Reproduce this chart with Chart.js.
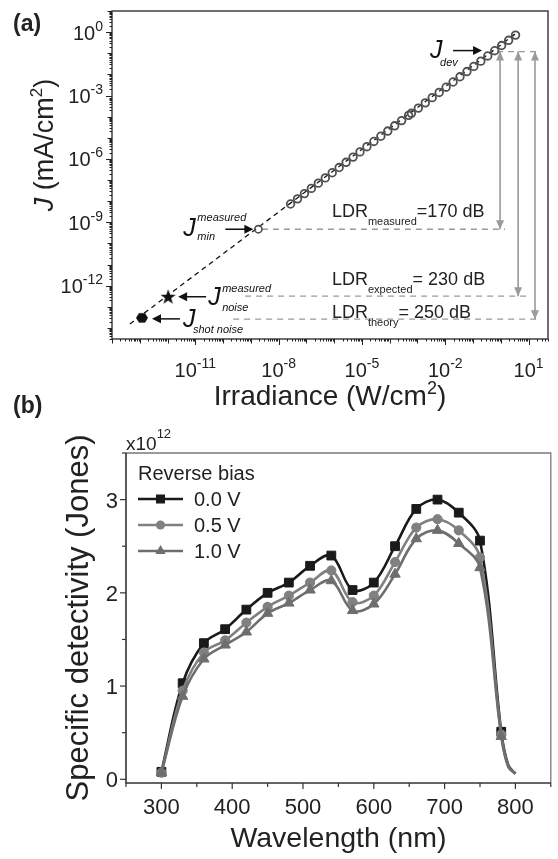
<!DOCTYPE html>
<html><head><meta charset="utf-8">
<script src="https://cdn.jsdelivr.net/npm/chart.js@4.4.0/dist/chart.umd.min.js"></script>
<style>
html,body{margin:0;padding:0;background:#fff;width:558px;height:859px;overflow:hidden;}
#wa{position:absolute;left:0;top:0;width:558px;height:420px;}
#wb{position:absolute;left:0;top:420px;width:558px;height:439px;}
</style></head><body>
<div id="wa"><canvas id="ca" width="558" height="420"></canvas></div>
<div id="wb"><canvas id="cb" width="558" height="439"></canvas></div>
<script>
// ---------- Panel (a) data ----------
const irradiance = [2.69e-8, 4.79e-8, 8.51e-8, 1.51e-7, 2.69e-7, 4.79e-7, 8.51e-7, 1.51e-6, 2.69e-6, 4.79e-6, 8.51e-6, 1.51e-5, 2.69e-5, 4.79e-5, 8.51e-5, 1.51e-4, 2.69e-4, 4.79e-4, 6.03e-4, 1.07e-3, 1.91e-3, 3.39e-3, 6.03e-3, 1.07e-2, 1.91e-2, 3.39e-2, 6.03e-2, 0.107, 0.191, 0.339, 0.603, 1.07, 1.91, 3.39];
const currentDensity = [7.33e-9, 1.29e-8, 2.28e-8, 4.03e-8, 7.11e-8, 1.26e-7, 2.21e-7, 3.91e-7, 6.90e-7, 1.22e-6, 2.15e-6, 3.79e-6, 6.70e-6, 1.18e-5, 2.08e-5, 3.68e-5, 6.50e-5, 1.15e-4, 1.44e-4, 2.54e-4, 4.49e-4, 7.93e-4, 1.40e-3, 2.47e-3, 4.36e-3, 7.69e-3, 1.36e-2, 2.39e-2, 4.23e-2, 7.46e-2, 0.132, 0.232, 0.410, 0.724];
const minMeasuredIrr = [1.86e-9];
const minMeasuredJ = [4.7e-10];
const noiseMeasuredIrr = [1.05e-12];
const noiseMeasuredJ = [3.0e-13];
const shotNoiseIrr = [1.2e-13];
const shotNoiseJ = [3.0e-14];
const fitIrr = [4.4e-14, 3.84];
const fitJ = [1.55e-14, 0.95];
const devLevelJ = 0.12;
const ldrNames = ['measured', 'expected', 'theory'];
const ldrValuesDb = [170, 230, 250];
const ldrLevelJ = [4.7e-10, 3.2e-13, 2.6e-14];
const ldrTextSep = ['=', '= ', '= '];
const xTickExpA = [-11, -8, -5, -2, 1];
const yTickExpA = [0, -3, -6, -9, -12];

// ---------- Panel (b) data ----------
const wavelength = [300, 330, 360, 390, 420, 450, 480, 510, 540, 570, 600, 630, 660, 690, 720, 750, 780, 790, 800];
const det00 = [0.08, 1.03, 1.46, 1.61, 1.82, 2.00, 2.11, 2.29, 2.40, 2.03, 2.11, 2.50, 2.90, 3.00, 2.86, 2.56, 0.51, 0.15, 0.06];
const det05 = [0.07, 0.95, 1.36, 1.49, 1.68, 1.85, 1.97, 2.11, 2.24, 1.90, 1.97, 2.33, 2.70, 2.79, 2.67, 2.38, 0.48, 0.14, 0.06];
const det10 = [0.07, 0.89, 1.29, 1.44, 1.58, 1.78, 1.89, 2.03, 2.13, 1.81, 1.88, 2.20, 2.58, 2.67, 2.53, 2.27, 0.46, 0.13, 0.06];
const biasLabels = ['0.0 V', '0.5 V', '1.0 V'];
const xTicksB = [300, 400, 500, 600, 700, 800];
const yTicksB = [0, 1, 2, 3];
const lastMarkerWl = 780;

// ---------- helpers ----------
const FAM = '"Liberation Sans", Arial, Helvetica, sans-serif';
const fnt = (s, it, b) => `${it ? 'italic ' : ''}${b ? 'bold ' : ''}${s}px ${FAM}`;
function parts(ctx, list, x, y, align) {
  let tot = 0;
  list.forEach(p => { ctx.font = fnt(p.s, p.i, p.b); p.w = ctx.measureText(p.t).width; tot += p.w; });
  let cx = align === 'right' ? x - tot : align === 'center' ? x - tot / 2 : x;
  ctx.textAlign = 'left'; ctx.textBaseline = 'alphabetic';
  list.forEach(p => { ctx.font = fnt(p.s, p.i, p.b); ctx.fillText(p.t, cx, y + (p.dy || 0)); cx += p.w; });
}
function arrowHead(ctx, x0, y0, x1, y1, color, hl, hw) {
  const a = Math.atan2(y1 - y0, x1 - x0), c = Math.cos(a), s = Math.sin(a);
  ctx.fillStyle = color; ctx.beginPath();
  ctx.moveTo(x1, y1);
  ctx.lineTo(x1 - hl * c + hw * s, y1 - hl * s - hw * c);
  ctx.lineTo(x1 - hl * c - hw * s, y1 - hl * s + hw * c);
  ctx.closePath(); ctx.fill();
}
function arrow(ctx, x0, y0, x1, y1, color, lw, hl, hw) {
  const a = Math.atan2(y1 - y0, x1 - x0);
  ctx.strokeStyle = color; ctx.lineWidth = lw; ctx.beginPath();
  ctx.moveTo(x0, y0); ctx.lineTo(x1 - Math.cos(a) * hl * 0.7, y1 - Math.sin(a) * hl * 0.7); ctx.stroke();
  arrowHead(ctx, x0, y0, x1, y1, color, hl, hw);
}
function shapeImage(kind) {
  const c = document.createElement('canvas'); c.width = 18; c.height = 18;
  const g = c.getContext('2d'); g.fillStyle = '#111'; g.beginPath();
  if (kind === 'star') {
    for (let k = 0; k < 10; k++) {
      const r = k % 2 ? 3.2 : 8, a = -Math.PI / 2 + k * Math.PI / 5;
      const px = 9 + r * Math.cos(a), py = 9.5 + r * Math.sin(a);
      k ? g.lineTo(px, py) : g.moveTo(px, py);
    }
  } else {
    for (let k = 0; k < 6; k++) {
      const a = k * Math.PI / 3;
      const px = 9 + 6 * Math.cos(a), py = 9 + 5.6 * Math.sin(a);
      k ? g.lineTo(px, py) : g.moveTo(px, py);
    }
  }
  g.closePath(); g.fill();
  return c;
}
const pts = (xs, ys) => xs.map((v, i) => ({ x: v, y: ys[i] }));

// ---------- Panel (a) ----------
const arrowIrr = [0.94, 4.2, 17];      // x positions of LDR double arrows
const ldrLineStart = [2.5e-9, 6.2e-10, 2.3e-10];
const ldrLineEnd = [1.42, 9.5, 25.7];
const ldrTextIrr = 8.3e-7;

const dsA = [
  { label: 'J measured', data: pts(irradiance, currentDensity), showLine: false,
    pointStyle: 'circle', pointRadius: 3.8, borderWidth: 1.8, borderColor: '#505050', backgroundColor: 'rgba(255,255,255,0)' },
  { label: 'J min', data: pts(minMeasuredIrr, minMeasuredJ), showLine: false,
    pointStyle: 'circle', pointRadius: 3.6, borderWidth: 1.6, borderColor: '#505050', backgroundColor: 'rgba(255,255,255,0)' },
  { label: 'J noise', data: pts(noiseMeasuredIrr, noiseMeasuredJ), showLine: false, pointStyle: shapeImage('star'), pointRadius: 8 },
  { label: 'J shot', data: pts(shotNoiseIrr, shotNoiseJ), showLine: false, pointStyle: shapeImage('hex'), pointRadius: 7 },
  { label: 'fit', data: pts(fitIrr, fitJ), showLine: true, borderColor: '#111', borderWidth: 1.3, borderDash: [5, 4], pointRadius: 0 },
  { label: 'dev level', data: [{ x: 0.73, y: devLevelJ }, { x: 25.7, y: devLevelJ }], showLine: true,
    borderColor: '#9a9a9a', borderWidth: 1.3, borderDash: [6, 5], pointRadius: 0 }
];
ldrNames.forEach((n, i) => {
  dsA.push({ label: 'level ' + n, data: [{ x: ldrLineStart[i], y: ldrLevelJ[i] }, { x: ldrLineEnd[i], y: ldrLevelJ[i] }],
    showLine: true, borderColor: '#9a9a9a', borderWidth: 1.3, borderDash: [6, 5], pointRadius: 0 });
});
ldrNames.forEach((n, i) => {
  dsA.push({ label: 'arrow ' + n, data: [{ x: arrowIrr[i], y: devLevelJ }, { x: arrowIrr[i], y: ldrLevelJ[i] }],
    showLine: true, borderColor: '#9a9a9a', borderWidth: 1.6, pointRadius: 0, doubleArrow: true });
});

const plotA = {
  id: 'plotA',
  afterDraw(chart) {
    const { ctx, chartArea: ca, scales: { x, y } } = chart;
    ctx.save();
    chart.data.datasets.forEach((d, di) => {
      if (!d.doubleArrow) return;
      const m = chart.getDatasetMeta(di).data;
      const a = m[0], b = m[1];
      arrowHead(ctx, b.x, b.y, a.x, a.y, '#9a9a9a', 9, 4);
      arrowHead(ctx, a.x, a.y, b.x, b.y, '#9a9a9a', 9, 4);
    });
    ctx.strokeStyle = '#333'; ctx.lineWidth = 1.4;
    ctx.strokeRect(ca.left, ca.top, ca.right - ca.left, ca.bottom - ca.top);
    ctx.strokeStyle = '#222'; ctx.lineWidth = 1;
    const drawTicks = (scale, vert, majors) => {
      const lo = Math.floor(Math.log10(scale.min)) - 1, hi = Math.ceil(Math.log10(scale.max));
      for (let n = lo; n <= hi; n++) for (let k = 1; k <= 9; k++) {
        const v = k * Math.pow(10, n);
        if (v < scale.min * 0.999 || v > scale.max * 1.001) continue;
        const len = k === 1 ? (majors.includes(n) ? 6 : 4.5) : 2.5;
        const p = Math.round(scale.getPixelForValue(v)) + 0.5;
        ctx.beginPath();
        if (vert) { ctx.moveTo(ca.left, p); ctx.lineTo(ca.left - len, p); }
        else { ctx.moveTo(p, ca.bottom); ctx.lineTo(p, ca.bottom + len); }
        ctx.stroke();
      }
    };
    drawTicks(y, true, yTickExpA);
    drawTicks(x, false, xTickExpA);
    ctx.fillStyle = '#222';
    yTickExpA.forEach(e => {
      const p = y.getPixelForValue(Math.pow(10, e));
      parts(ctx, [{ t: '10', s: 20 }, { t: String(e), s: 14, dy: -9 }], ca.left - 9, p + 7.5, 'right');
    });
    xTickExpA.forEach(e => {
      const p = x.getPixelForValue(Math.pow(10, e));
      parts(ctx, [{ t: '10', s: 20 }, { t: String(e), s: 14, dy: -9 }], p, ca.bottom + 38, 'center');
    });
    parts(ctx, [{ t: 'Irradiance (W/cm', s: 28 }, { t: '2', s: 18, dy: -11 }, { t: ')', s: 28 }], (ca.left + ca.right) / 2, ca.bottom + 66, 'center');
    ctx.save(); ctx.translate(53, 145); ctx.rotate(-Math.PI / 2);
    parts(ctx, [{ t: 'J', s: 27, i: true }, { t: ' (mA/cm', s: 27 }, { t: '2', s: 17, dy: -11 }, { t: ')', s: 27 }], 0, 0, 'center');
    ctx.restore();
    parts(ctx, [{ t: '(a)', s: 23, b: true }], 13, 31, 'left');
    parts(ctx, [{ t: '(b)', s: 23, b: true }], 13, 413, 'left');
    const lx = x.getPixelForValue(ldrTextIrr);
    const dyMain = [-12, -11, -1];
    ldrNames.forEach((n, i) => {
      const ly = y.getPixelForValue(ldrLevelJ[i]) + dyMain[i];
      parts(ctx, [{ t: 'LDR', s: 18 }, { t: n, s: 11, dy: 8 }, { t: ldrTextSep[i] + ldrValuesDb[i] + ' dB', s: 18 }], lx, ly, 'left');
    });
    const blk = '#111';
    const pMin = chart.getDatasetMeta(1).data[0];
    arrow(ctx, pMin.x - 33, pMin.y, pMin.x - 5, pMin.y, blk, 1.5, 9, 4.5);
    parts(ctx, [{ t: 'J', s: 25, i: true }], pMin.x - 75, pMin.y + 7, 'left');
    parts(ctx, [{ t: 'measured', s: 11, i: true }], pMin.x - 61, pMin.y - 8, 'left');
    parts(ctx, [{ t: 'min', s: 11, i: true }], pMin.x - 61, pMin.y + 11, 'left');
    const pN = chart.getDatasetMeta(2).data[0];
    arrow(ctx, pN.x + 38, pN.y, pN.x + 10, pN.y, blk, 1.5, 9, 4.5);
    parts(ctx, [{ t: 'J', s: 25, i: true }], pN.x + 40, pN.y + 8, 'left');
    parts(ctx, [{ t: 'measured', s: 11, i: true }], pN.x + 54, pN.y - 5, 'left');
    parts(ctx, [{ t: 'noise', s: 11, i: true }], pN.x + 54, pN.y + 14, 'left');
    const pS = chart.getDatasetMeta(3).data[0];
    arrow(ctx, pS.x + 38, pS.y + 1, pS.x + 10, pS.y + 1, blk, 1.5, 9, 4.5);
    parts(ctx, [{ t: 'J', s: 25, i: true }], pS.x + 41, pS.y + 9, 'left');
    parts(ctx, [{ t: 'shot noise', s: 11, i: true }], pS.x + 51, pS.y + 15, 'left');
    const aTop = chart.getDatasetMeta(dsA.length - 3).data[0];
    arrow(ctx, aTop.x - 47, aTop.y - 1, aTop.x - 18, aTop.y - 1, blk, 1.5, 9, 4.5);
    parts(ctx, [{ t: 'J', s: 25, i: true }], aTop.x - 70, aTop.y + 6, 'left');
    parts(ctx, [{ t: 'dev', s: 11, i: true }], aTop.x - 60, aTop.y + 14, 'left');
    ctx.restore();
  }
};

new Chart(document.getElementById('ca'), {
  type: 'scatter',
  data: { datasets: dsA },
  options: {
    responsive: false, animation: false, events: [],
    layout: { padding: { left: 112, top: 11, right: 10, bottom: 81 } },
    plugins: { legend: { display: false }, tooltip: { enabled: false } },
    scales: {
      x: { type: 'logarithmic', min: 1e-14, max: 50, display: false },
      y: { type: 'logarithmic', min: 3.2e-15, max: 10, display: false }
    }
  },
  plugins: [plotA]
});

// ---------- Panel (b) ----------
const markerR = c => (wavelength[c.dataIndex] <= lastMarkerWl ? 1 : 0);
const seriesB = [
  { label: biasLabels[0], vals: det00, color: '#1a1a1a', style: 'rect', r: 6.2, order: 2 },
  { label: biasLabels[1], vals: det05, color: '#808080', style: 'circle', r: 4.6, order: 1 },
  { label: biasLabels[2], vals: det10, color: '#6e6e6e', style: 'triangle', r: 6, order: 0 }
];
const dsB = seriesB.map(s => ({
  label: s.label, data: pts(wavelength, s.vals), order: s.order,
  borderColor: s.color, backgroundColor: s.color, borderWidth: 2.6, tension: 0.35,
  pointStyle: s.style, pointBorderWidth: 1, pointBorderColor: s.color, pointBackgroundColor: s.color,
  pointRadius: c => markerR(c) * s.r
}));

const plotB = {
  id: 'plotB',
  afterDraw(chart) {
    const { ctx, chartArea: ca, scales: { x, y } } = chart;
    ctx.save();
    ctx.lineWidth = 1.3; ctx.strokeStyle = '#7a7a7a';
    ctx.beginPath(); ctx.moveTo(ca.left, ca.top); ctx.lineTo(ca.right, ca.top); ctx.lineTo(ca.right, ca.bottom); ctx.stroke();
    ctx.lineWidth = 1.6; ctx.strokeStyle = '#333';
    ctx.beginPath(); ctx.moveTo(ca.left, ca.top); ctx.lineTo(ca.left, ca.bottom); ctx.lineTo(ca.right, ca.bottom); ctx.stroke();
    ctx.lineWidth = 1.2; ctx.strokeStyle = '#333';
    for (let v = 250; v <= 850; v += 50) {
      const p = x.getPixelForValue(v), len = v % 100 === 0 ? 6 : 4;
      ctx.beginPath(); ctx.moveTo(p, ca.bottom); ctx.lineTo(p, ca.bottom + len); ctx.stroke();
    }
    for (let v = 0; v <= 3.5; v += 0.5) {
      const p = y.getPixelForValue(v), len = v % 1 === 0 ? 6 : 4;
      ctx.beginPath(); ctx.moveTo(ca.left, p); ctx.lineTo(ca.left - len, p); ctx.stroke();
    }
    ctx.fillStyle = '#222';
    xTicksB.forEach(v => parts(ctx, [{ t: String(v), s: 22 }], x.getPixelForValue(v), ca.bottom + 31, 'center'));
    yTicksB.forEach(v => parts(ctx, [{ t: String(v), s: 22 }], ca.left - 8, y.getPixelForValue(v) + 8, 'right'));
    parts(ctx, [{ t: 'x10', s: 19 }, { t: '12', s: 13, dy: -12 }], ca.left, ca.top - 3, 'left');
    parts(ctx, [{ t: 'Wavelength (nm)', s: 28.5 }], (ca.left + ca.right) / 2, ca.bottom + 64, 'center');
    ctx.save(); ctx.translate(88, (ca.top + ca.bottom) / 2); ctx.rotate(-Math.PI / 2);
    parts(ctx, [{ t: 'Specific detectivity (Jones)', s: 31 }], 0, 0, 'center');
    ctx.restore();
    const lx = ca.left + 12;
    parts(ctx, [{ t: 'Reverse bias', s: 20 }], lx, ca.top + 27, 'left');
    seriesB.forEach((s, i) => {
      const ly = ca.top + 46 + i * 26;
      ctx.strokeStyle = s.color; ctx.lineWidth = 2.6;
      ctx.beginPath(); ctx.moveTo(lx, ly); ctx.lineTo(lx + 45, ly); ctx.stroke();
      ctx.fillStyle = s.color; ctx.beginPath();
      const cx = lx + 22.5;
      if (s.style === 'rect') ctx.rect(cx - 4.5, ly - 4.5, 9, 9);
      else if (s.style === 'circle') ctx.arc(cx, ly, 4.6, 0, Math.PI * 2);
      else { ctx.moveTo(cx, ly - 6); ctx.lineTo(cx + 5.2, ly + 3); ctx.lineTo(cx - 5.2, ly + 3); ctx.closePath(); }
      ctx.fill();
      ctx.fillStyle = '#222';
      parts(ctx, [{ t: s.label, s: 20 }], lx + 56, ly + 7, 'left');
    });
    ctx.restore();
  }
};

new Chart(document.getElementById('cb'), {
  type: 'line',
  data: { datasets: dsB },
  options: {
    responsive: false, animation: false, events: [],
    layout: { padding: { left: 126, top: 33, right: 1, bottom: 76 } },
    plugins: { legend: { display: false }, tooltip: { enabled: false } },
    scales: {
      x: { type: 'linear', min: 250, max: 850, display: false },
      y: { type: 'linear', min: -0.04, max: 3.5, display: false }
    }
  },
  plugins: [plotB]
});
</script>
</body></html>
